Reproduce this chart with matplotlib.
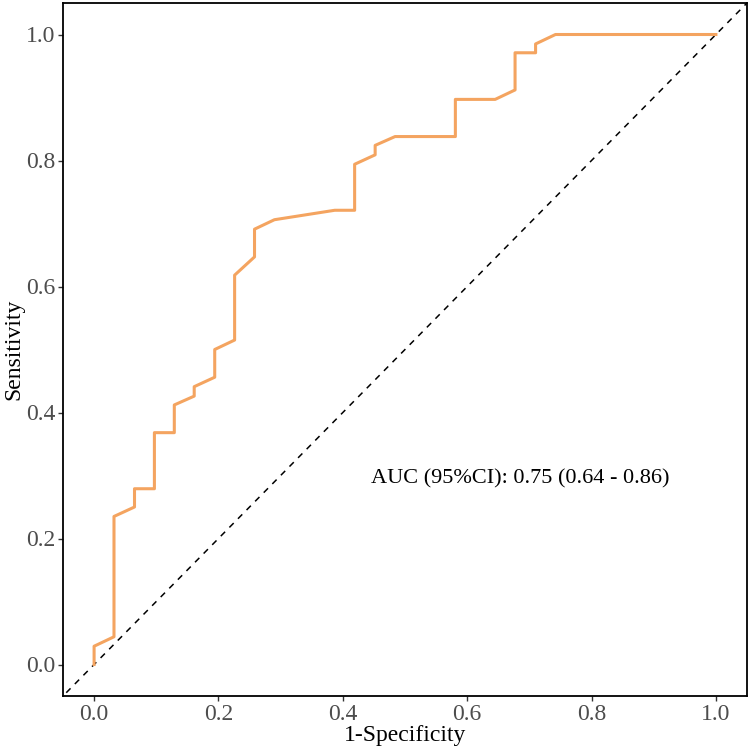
import matplotlib
matplotlib.use("Agg")
import matplotlib.pyplot as plt

# ROC curve points (1-specificity, sensitivity)
fpr = [0.0, 0.0, 0.032, 0.032, 0.065, 0.065, 0.097, 0.097, 0.129, 0.129,
       0.161, 0.161, 0.194, 0.194, 0.226, 0.226, 0.258, 0.258, 0.290, 0.387,
       0.419, 0.419, 0.452, 0.452, 0.484, 0.581, 0.581, 0.645, 0.677, 0.677,
       0.710, 0.710, 0.742, 1.0]
tpr = [0.0, 0.029, 0.044, 0.235, 0.250, 0.279, 0.279, 0.368, 0.368, 0.412,
       0.426, 0.441, 0.456, 0.500, 0.515, 0.618, 0.647, 0.691, 0.706, 0.721,
       0.721, 0.794, 0.809, 0.824, 0.838, 0.838, 0.897, 0.897, 0.912, 0.971,
       0.971, 0.985, 1.0, 1.0]
ticks = [0.0, 0.2, 0.4, 0.6, 0.8, 1.0]
tick_labels = ["0.0", "0.2", "0.4", "0.6", "0.8", "1.0"]
auc_text = "AUC (95%CI): 0.75 (0.64 - 0.86)"

plt.rcParams['font.family'] = ['Liberation Serif', 'DejaVu Serif']

fig = plt.figure(figsize=(7.51, 7.49), dpi=100)
ax = fig.add_axes([63 / 751, 1 - 696 / 749, (747 - 63) / 751, (696 - 3) / 749])

# reference diagonal
ax.plot([-0.1, 1.1], [-0.1, 1.1], color="black", linestyle=(0, (4, 4)), linewidth=1.1, zorder=1)
ax.plot(fpr, tpr, color="#F4A460", linewidth=2.2, zorder=2)

ax.text(0.686, 0.295, auc_text, ha="center", va="center", fontsize=16, color="black")

ax.set_xlim(-0.05, 1.05)
ax.set_ylim(-0.05, 1.05)
ax.set_xticks(ticks)
ax.set_xticklabels(tick_labels)
ax.set_yticks(ticks)
ax.set_yticklabels(tick_labels)
ax.tick_params(axis="both", direction="out", length=3.5, width=1, color="#333333",
               labelsize=17, labelcolor="#4D4D4D", pad=2)
ax.set_xlabel("1-Specificity", fontsize=17, labelpad=0)
ax.set_ylabel("Sensitivity", fontsize=17, labelpad=1)

for sp in ax.spines.values():
    sp.set_color("black")
    sp.set_linewidth(1.3)

fig.savefig("out.png", dpi=100)
